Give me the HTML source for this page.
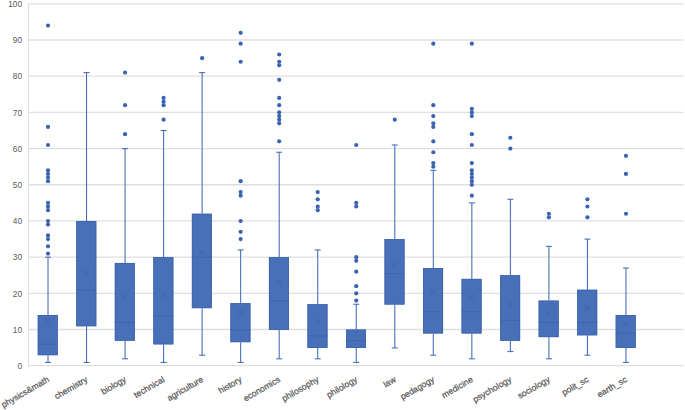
<!DOCTYPE html>
<html><head><meta charset="utf-8"><style>
html,body{margin:0;padding:0;background:#fff;width:685px;height:410px;overflow:hidden}
svg{display:block}
.yl{font-family:"Liberation Sans",sans-serif;font-size:8.3px;fill:#595959}
.xl{font-family:"Liberation Sans",sans-serif;font-size:8.6px;fill:#595959;stroke:#595959;stroke-width:0.25px}
</style></head><body>
<svg width="685" height="410" viewBox="0 0 685 410">
<line x1="28.5" y1="365.70" x2="683.5" y2="365.70" stroke="#dfdfdf" stroke-width="1.3"/>
<line x1="28.5" y1="329.51" x2="683.5" y2="329.51" stroke="#dfdfdf" stroke-width="1.3"/>
<line x1="28.5" y1="293.32" x2="683.5" y2="293.32" stroke="#dfdfdf" stroke-width="1.3"/>
<line x1="28.5" y1="257.13" x2="683.5" y2="257.13" stroke="#dfdfdf" stroke-width="1.3"/>
<line x1="28.5" y1="220.94" x2="683.5" y2="220.94" stroke="#dfdfdf" stroke-width="1.3"/>
<line x1="28.5" y1="184.75" x2="683.5" y2="184.75" stroke="#dfdfdf" stroke-width="1.3"/>
<line x1="28.5" y1="148.56" x2="683.5" y2="148.56" stroke="#dfdfdf" stroke-width="1.3"/>
<line x1="28.5" y1="112.37" x2="683.5" y2="112.37" stroke="#dfdfdf" stroke-width="1.3"/>
<line x1="28.5" y1="76.18" x2="683.5" y2="76.18" stroke="#dfdfdf" stroke-width="1.3"/>
<line x1="28.5" y1="39.99" x2="683.5" y2="39.99" stroke="#dfdfdf" stroke-width="1.3"/>
<line x1="28.5" y1="3.80" x2="683.5" y2="3.80" stroke="#dfdfdf" stroke-width="1.3"/>
<line x1="28.5" y1="3.60" x2="28.5" y2="365.50" stroke="#dfdfdf" stroke-width="1"/>
<text transform="translate(22,368.90) scale(1,1.08)" text-anchor="end" class="yl">0</text>
<text transform="translate(22,332.71) scale(1,1.08)" text-anchor="end" class="yl">10</text>
<text transform="translate(22,296.52) scale(1,1.08)" text-anchor="end" class="yl">20</text>
<text transform="translate(22,260.33) scale(1,1.08)" text-anchor="end" class="yl">30</text>
<text transform="translate(22,224.14) scale(1,1.08)" text-anchor="end" class="yl">40</text>
<text transform="translate(22,187.95) scale(1,1.08)" text-anchor="end" class="yl">50</text>
<text transform="translate(22,151.76) scale(1,1.08)" text-anchor="end" class="yl">60</text>
<text transform="translate(22,115.57) scale(1,1.08)" text-anchor="end" class="yl">70</text>
<text transform="translate(22,79.38) scale(1,1.08)" text-anchor="end" class="yl">80</text>
<text transform="translate(22,43.19) scale(1,1.08)" text-anchor="end" class="yl">90</text>
<text transform="translate(22,7.00) scale(1,1.08)" text-anchor="end" class="yl">100</text>
<line x1="48.01" y1="257.18" x2="48.01" y2="315.08" stroke="#4169b9" stroke-width="1.05"/>
<line x1="48.01" y1="355.19" x2="48.01" y2="362.43" stroke="#4169b9" stroke-width="1.05"/>
<line x1="45.01" y1="257.18" x2="51.01" y2="257.18" stroke="#4169b9" stroke-width="1.05"/>
<line x1="45.01" y1="362.43" x2="51.01" y2="362.43" stroke="#4169b9" stroke-width="1.05"/>
<rect x="37.76" y="315.08" width="20.00" height="40.11" fill="#4770b8"/>
<rect x="38.11" y="315.43" width="19.30" height="39.41" fill="none" stroke="#3b62ad" stroke-width="0.7"/>
<line x1="37.76" y1="344.24" x2="57.76" y2="344.24" stroke="#3d63ab" stroke-width="0.9"/>
<path d="M44.86 317.61L50.66 323.41M50.66 317.61L44.86 323.41" stroke="#3b62ad" stroke-width="0.8" fill="none"/>
<circle cx="48.01" cy="25.56" r="2.1" fill="#3b63b2"/>
<circle cx="48.01" cy="126.90" r="2.1" fill="#3b63b2"/>
<circle cx="48.01" cy="144.99" r="2.1" fill="#3b63b2"/>
<circle cx="48.01" cy="170.32" r="2.1" fill="#3b63b2"/>
<circle cx="48.01" cy="173.94" r="2.1" fill="#3b63b2"/>
<circle cx="48.01" cy="177.56" r="2.1" fill="#3b63b2"/>
<circle cx="48.01" cy="181.18" r="2.1" fill="#3b63b2"/>
<circle cx="48.01" cy="202.90" r="2.1" fill="#3b63b2"/>
<circle cx="48.01" cy="206.51" r="2.1" fill="#3b63b2"/>
<circle cx="48.01" cy="210.13" r="2.1" fill="#3b63b2"/>
<circle cx="48.01" cy="220.99" r="2.1" fill="#3b63b2"/>
<circle cx="48.01" cy="224.61" r="2.1" fill="#3b63b2"/>
<circle cx="48.01" cy="235.47" r="2.1" fill="#3b63b2"/>
<circle cx="48.01" cy="239.09" r="2.1" fill="#3b63b2"/>
<circle cx="48.01" cy="246.32" r="2.1" fill="#3b63b2"/>
<circle cx="48.01" cy="253.56" r="2.1" fill="#3b63b2"/>
<text transform="translate(46.56,375.60) rotate(-30)" text-anchor="end" class="xl" dy="0.75em">physics&amp;math</text>
<line x1="86.54" y1="72.61" x2="86.54" y2="220.99" stroke="#4169b9" stroke-width="1.05"/>
<line x1="86.54" y1="326.24" x2="86.54" y2="362.43" stroke="#4169b9" stroke-width="1.05"/>
<line x1="83.54" y1="72.61" x2="89.54" y2="72.61" stroke="#4169b9" stroke-width="1.05"/>
<line x1="83.54" y1="362.43" x2="89.54" y2="362.43" stroke="#4169b9" stroke-width="1.05"/>
<rect x="76.29" y="220.99" width="20.00" height="105.25" fill="#4770b8"/>
<rect x="76.64" y="221.34" width="19.30" height="104.55" fill="none" stroke="#3b62ad" stroke-width="0.7"/>
<line x1="76.29" y1="289.95" x2="96.29" y2="289.95" stroke="#3d63ab" stroke-width="0.9"/>
<path d="M83.39 269.48L89.19 275.28M89.19 269.48L83.39 275.28" stroke="#3b62ad" stroke-width="0.8" fill="none"/>
<text transform="translate(85.09,375.60) rotate(-30)" text-anchor="end" class="xl" dy="0.75em">chemistry</text>
<line x1="125.07" y1="148.61" x2="125.07" y2="262.97" stroke="#4169b9" stroke-width="1.05"/>
<line x1="125.07" y1="340.72" x2="125.07" y2="358.81" stroke="#4169b9" stroke-width="1.05"/>
<line x1="122.07" y1="148.61" x2="128.07" y2="148.61" stroke="#4169b9" stroke-width="1.05"/>
<line x1="122.07" y1="358.81" x2="128.07" y2="358.81" stroke="#4169b9" stroke-width="1.05"/>
<rect x="114.82" y="262.97" width="20.00" height="77.75" fill="#4770b8"/>
<rect x="115.17" y="263.32" width="19.30" height="77.05" fill="none" stroke="#3b62ad" stroke-width="0.7"/>
<line x1="114.82" y1="322.52" x2="134.82" y2="322.52" stroke="#3d63ab" stroke-width="0.9"/>
<path d="M121.92 294.09L127.72 299.89M127.72 294.09L121.92 299.89" stroke="#3b62ad" stroke-width="0.8" fill="none"/>
<circle cx="125.07" cy="134.13" r="2.1" fill="#3b63b2"/>
<circle cx="125.07" cy="105.18" r="2.1" fill="#3b63b2"/>
<circle cx="125.07" cy="72.61" r="2.1" fill="#3b63b2"/>
<text transform="translate(123.62,375.60) rotate(-30)" text-anchor="end" class="xl" dy="0.75em">biology</text>
<line x1="163.60" y1="130.52" x2="163.60" y2="257.18" stroke="#4169b9" stroke-width="1.05"/>
<line x1="163.60" y1="344.34" x2="163.60" y2="362.43" stroke="#4169b9" stroke-width="1.05"/>
<line x1="160.60" y1="130.52" x2="166.60" y2="130.52" stroke="#4169b9" stroke-width="1.05"/>
<line x1="160.60" y1="362.43" x2="166.60" y2="362.43" stroke="#4169b9" stroke-width="1.05"/>
<rect x="153.35" y="257.18" width="20.00" height="87.16" fill="#4770b8"/>
<rect x="153.70" y="257.53" width="19.30" height="86.46" fill="none" stroke="#3b62ad" stroke-width="0.7"/>
<line x1="153.35" y1="316.01" x2="173.35" y2="316.01" stroke="#3d63ab" stroke-width="0.9"/>
<path d="M160.45 292.28L166.25 298.08M166.25 292.28L160.45 298.08" stroke="#3b62ad" stroke-width="0.8" fill="none"/>
<circle cx="163.60" cy="119.66" r="2.1" fill="#3b63b2"/>
<circle cx="163.60" cy="105.18" r="2.1" fill="#3b63b2"/>
<circle cx="163.60" cy="101.56" r="2.1" fill="#3b63b2"/>
<circle cx="163.60" cy="97.94" r="2.1" fill="#3b63b2"/>
<text transform="translate(162.15,375.60) rotate(-30)" text-anchor="end" class="xl" dy="0.75em">technical</text>
<line x1="202.13" y1="72.61" x2="202.13" y2="213.75" stroke="#4169b9" stroke-width="1.05"/>
<line x1="202.13" y1="308.15" x2="202.13" y2="355.19" stroke="#4169b9" stroke-width="1.05"/>
<line x1="199.13" y1="72.61" x2="205.13" y2="72.61" stroke="#4169b9" stroke-width="1.05"/>
<line x1="199.13" y1="355.19" x2="205.13" y2="355.19" stroke="#4169b9" stroke-width="1.05"/>
<rect x="191.88" y="213.75" width="20.00" height="94.39" fill="#4770b8"/>
<rect x="192.23" y="214.10" width="19.30" height="93.69" fill="none" stroke="#3b62ad" stroke-width="0.7"/>
<line x1="191.88" y1="257.38" x2="211.88" y2="257.38" stroke="#3d63ab" stroke-width="0.9"/>
<path d="M198.98 249.94L204.78 255.74M204.78 249.94L198.98 255.74" stroke="#3b62ad" stroke-width="0.8" fill="none"/>
<circle cx="202.13" cy="58.13" r="2.1" fill="#3b63b2"/>
<text transform="translate(200.68,375.60) rotate(-30)" text-anchor="end" class="xl" dy="0.75em">agriculture</text>
<line x1="240.66" y1="249.94" x2="240.66" y2="303.14" stroke="#4169b9" stroke-width="1.05"/>
<line x1="240.66" y1="342.16" x2="240.66" y2="362.43" stroke="#4169b9" stroke-width="1.05"/>
<line x1="237.66" y1="249.94" x2="243.66" y2="249.94" stroke="#4169b9" stroke-width="1.05"/>
<line x1="237.66" y1="362.43" x2="243.66" y2="362.43" stroke="#4169b9" stroke-width="1.05"/>
<rect x="230.41" y="303.14" width="20.00" height="39.02" fill="#4770b8"/>
<rect x="230.76" y="303.49" width="19.30" height="38.32" fill="none" stroke="#3b62ad" stroke-width="0.7"/>
<line x1="230.41" y1="329.76" x2="250.41" y2="329.76" stroke="#3d63ab" stroke-width="0.9"/>
<path d="M237.51 309.29L243.31 315.09M243.31 309.29L237.51 315.09" stroke="#3b62ad" stroke-width="0.8" fill="none"/>
<circle cx="240.66" cy="32.80" r="2.1" fill="#3b63b2"/>
<circle cx="240.66" cy="43.66" r="2.1" fill="#3b63b2"/>
<circle cx="240.66" cy="61.75" r="2.1" fill="#3b63b2"/>
<circle cx="240.66" cy="181.18" r="2.1" fill="#3b63b2"/>
<circle cx="240.66" cy="192.04" r="2.1" fill="#3b63b2"/>
<circle cx="240.66" cy="195.66" r="2.1" fill="#3b63b2"/>
<circle cx="240.66" cy="220.99" r="2.1" fill="#3b63b2"/>
<circle cx="240.66" cy="231.85" r="2.1" fill="#3b63b2"/>
<circle cx="240.66" cy="239.09" r="2.1" fill="#3b63b2"/>
<text transform="translate(239.21,375.60) rotate(-30)" text-anchor="end" class="xl" dy="0.75em">history</text>
<line x1="279.19" y1="152.23" x2="279.19" y2="257.18" stroke="#4169b9" stroke-width="1.05"/>
<line x1="279.19" y1="329.86" x2="279.19" y2="358.81" stroke="#4169b9" stroke-width="1.05"/>
<line x1="276.19" y1="152.23" x2="282.19" y2="152.23" stroke="#4169b9" stroke-width="1.05"/>
<line x1="276.19" y1="358.81" x2="282.19" y2="358.81" stroke="#4169b9" stroke-width="1.05"/>
<rect x="268.94" y="257.18" width="20.00" height="72.68" fill="#4770b8"/>
<rect x="269.29" y="257.53" width="19.30" height="71.98" fill="none" stroke="#3b62ad" stroke-width="0.7"/>
<line x1="268.94" y1="300.81" x2="288.94" y2="300.81" stroke="#3d63ab" stroke-width="0.9"/>
<path d="M276.04 279.61L281.84 285.41M281.84 279.61L276.04 285.41" stroke="#3b62ad" stroke-width="0.8" fill="none"/>
<circle cx="279.19" cy="54.52" r="2.1" fill="#3b63b2"/>
<circle cx="279.19" cy="61.75" r="2.1" fill="#3b63b2"/>
<circle cx="279.19" cy="65.37" r="2.1" fill="#3b63b2"/>
<circle cx="279.19" cy="79.85" r="2.1" fill="#3b63b2"/>
<circle cx="279.19" cy="97.94" r="2.1" fill="#3b63b2"/>
<circle cx="279.19" cy="105.18" r="2.1" fill="#3b63b2"/>
<circle cx="279.19" cy="112.42" r="2.1" fill="#3b63b2"/>
<circle cx="279.19" cy="116.04" r="2.1" fill="#3b63b2"/>
<circle cx="279.19" cy="119.66" r="2.1" fill="#3b63b2"/>
<circle cx="279.19" cy="123.28" r="2.1" fill="#3b63b2"/>
<circle cx="279.19" cy="141.37" r="2.1" fill="#3b63b2"/>
<text transform="translate(277.74,375.60) rotate(-30)" text-anchor="end" class="xl" dy="0.75em">economics</text>
<line x1="317.72" y1="249.94" x2="317.72" y2="304.23" stroke="#4169b9" stroke-width="1.05"/>
<line x1="317.72" y1="347.95" x2="317.72" y2="358.81" stroke="#4169b9" stroke-width="1.05"/>
<line x1="314.72" y1="249.94" x2="320.72" y2="249.94" stroke="#4169b9" stroke-width="1.05"/>
<line x1="314.72" y1="358.81" x2="320.72" y2="358.81" stroke="#4169b9" stroke-width="1.05"/>
<rect x="307.47" y="304.23" width="20.00" height="43.73" fill="#4770b8"/>
<rect x="307.82" y="304.58" width="19.30" height="43.03" fill="none" stroke="#3b62ad" stroke-width="0.7"/>
<line x1="307.47" y1="335.91" x2="327.47" y2="335.91" stroke="#3d63ab" stroke-width="0.9"/>
<path d="M314.57 319.42L320.37 325.22M320.37 319.42L314.57 325.22" stroke="#3b62ad" stroke-width="0.8" fill="none"/>
<circle cx="317.72" cy="192.04" r="2.1" fill="#3b63b2"/>
<circle cx="317.72" cy="199.28" r="2.1" fill="#3b63b2"/>
<circle cx="317.72" cy="206.51" r="2.1" fill="#3b63b2"/>
<circle cx="317.72" cy="210.13" r="2.1" fill="#3b63b2"/>
<text transform="translate(316.27,375.60) rotate(-30)" text-anchor="end" class="xl" dy="0.75em">philosophy</text>
<line x1="356.25" y1="304.23" x2="356.25" y2="329.56" stroke="#4169b9" stroke-width="1.05"/>
<line x1="356.25" y1="347.95" x2="356.25" y2="362.43" stroke="#4169b9" stroke-width="1.05"/>
<line x1="353.25" y1="304.23" x2="359.25" y2="304.23" stroke="#4169b9" stroke-width="1.05"/>
<line x1="353.25" y1="362.43" x2="359.25" y2="362.43" stroke="#4169b9" stroke-width="1.05"/>
<rect x="346.00" y="329.56" width="20.00" height="18.39" fill="#4770b8"/>
<rect x="346.35" y="329.91" width="19.30" height="17.69" fill="none" stroke="#3b62ad" stroke-width="0.7"/>
<line x1="346.00" y1="340.62" x2="366.00" y2="340.62" stroke="#3d63ab" stroke-width="0.9"/>
<path d="M353.10 330.28L358.90 336.08M358.90 330.28L353.10 336.08" stroke="#3b62ad" stroke-width="0.8" fill="none"/>
<circle cx="356.25" cy="144.99" r="2.1" fill="#3b63b2"/>
<circle cx="356.25" cy="202.90" r="2.1" fill="#3b63b2"/>
<circle cx="356.25" cy="206.51" r="2.1" fill="#3b63b2"/>
<circle cx="356.25" cy="257.18" r="2.1" fill="#3b63b2"/>
<circle cx="356.25" cy="260.80" r="2.1" fill="#3b63b2"/>
<circle cx="356.25" cy="271.66" r="2.1" fill="#3b63b2"/>
<circle cx="356.25" cy="286.13" r="2.1" fill="#3b63b2"/>
<circle cx="356.25" cy="293.37" r="2.1" fill="#3b63b2"/>
<circle cx="356.25" cy="300.61" r="2.1" fill="#3b63b2"/>
<text transform="translate(354.80,375.60) rotate(-30)" text-anchor="end" class="xl" dy="0.75em">philology</text>
<line x1="394.78" y1="144.99" x2="394.78" y2="239.09" stroke="#4169b9" stroke-width="1.05"/>
<line x1="394.78" y1="304.53" x2="394.78" y2="347.95" stroke="#4169b9" stroke-width="1.05"/>
<line x1="391.78" y1="144.99" x2="397.78" y2="144.99" stroke="#4169b9" stroke-width="1.05"/>
<line x1="391.78" y1="347.95" x2="397.78" y2="347.95" stroke="#4169b9" stroke-width="1.05"/>
<rect x="384.53" y="239.09" width="20.00" height="65.44" fill="#4770b8"/>
<rect x="384.88" y="239.44" width="19.30" height="64.74" fill="none" stroke="#3b62ad" stroke-width="0.7"/>
<line x1="384.53" y1="273.67" x2="404.53" y2="273.67" stroke="#3d63ab" stroke-width="0.9"/>
<path d="M391.63 262.24L397.43 268.04M397.43 262.24L391.63 268.04" stroke="#3b62ad" stroke-width="0.8" fill="none"/>
<circle cx="394.78" cy="119.66" r="2.1" fill="#3b63b2"/>
<text transform="translate(393.33,375.60) rotate(-30)" text-anchor="end" class="xl" dy="0.75em">law</text>
<line x1="433.31" y1="170.32" x2="433.31" y2="268.04" stroke="#4169b9" stroke-width="1.05"/>
<line x1="433.31" y1="333.48" x2="433.31" y2="355.19" stroke="#4169b9" stroke-width="1.05"/>
<line x1="430.31" y1="170.32" x2="436.31" y2="170.32" stroke="#4169b9" stroke-width="1.05"/>
<line x1="430.31" y1="355.19" x2="436.31" y2="355.19" stroke="#4169b9" stroke-width="1.05"/>
<rect x="423.06" y="268.04" width="20.00" height="65.44" fill="#4770b8"/>
<rect x="423.41" y="268.39" width="19.30" height="64.74" fill="none" stroke="#3b62ad" stroke-width="0.7"/>
<line x1="423.06" y1="311.67" x2="443.06" y2="311.67" stroke="#3d63ab" stroke-width="0.9"/>
<path d="M430.16 289.75L435.96 295.55M435.96 289.75L430.16 295.55" stroke="#3b62ad" stroke-width="0.8" fill="none"/>
<circle cx="433.31" cy="43.66" r="2.1" fill="#3b63b2"/>
<circle cx="433.31" cy="105.18" r="2.1" fill="#3b63b2"/>
<circle cx="433.31" cy="116.04" r="2.1" fill="#3b63b2"/>
<circle cx="433.31" cy="123.28" r="2.1" fill="#3b63b2"/>
<circle cx="433.31" cy="126.90" r="2.1" fill="#3b63b2"/>
<circle cx="433.31" cy="141.37" r="2.1" fill="#3b63b2"/>
<circle cx="433.31" cy="152.23" r="2.1" fill="#3b63b2"/>
<circle cx="433.31" cy="163.09" r="2.1" fill="#3b63b2"/>
<circle cx="433.31" cy="166.71" r="2.1" fill="#3b63b2"/>
<text transform="translate(431.86,375.60) rotate(-30)" text-anchor="end" class="xl" dy="0.75em">pedagogy</text>
<line x1="471.84" y1="202.90" x2="471.84" y2="278.89" stroke="#4169b9" stroke-width="1.05"/>
<line x1="471.84" y1="333.48" x2="471.84" y2="358.81" stroke="#4169b9" stroke-width="1.05"/>
<line x1="468.84" y1="202.90" x2="474.84" y2="202.90" stroke="#4169b9" stroke-width="1.05"/>
<line x1="468.84" y1="358.81" x2="474.84" y2="358.81" stroke="#4169b9" stroke-width="1.05"/>
<rect x="461.59" y="278.89" width="20.00" height="54.58" fill="#4770b8"/>
<rect x="461.94" y="279.24" width="19.30" height="53.88" fill="none" stroke="#3b62ad" stroke-width="0.7"/>
<line x1="461.59" y1="311.67" x2="481.59" y2="311.67" stroke="#3d63ab" stroke-width="0.9"/>
<path d="M468.69 293.73L474.49 299.53M474.49 293.73L468.69 299.53" stroke="#3b62ad" stroke-width="0.8" fill="none"/>
<circle cx="471.84" cy="43.66" r="2.1" fill="#3b63b2"/>
<circle cx="471.84" cy="108.80" r="2.1" fill="#3b63b2"/>
<circle cx="471.84" cy="112.42" r="2.1" fill="#3b63b2"/>
<circle cx="471.84" cy="116.04" r="2.1" fill="#3b63b2"/>
<circle cx="471.84" cy="134.13" r="2.1" fill="#3b63b2"/>
<circle cx="471.84" cy="144.99" r="2.1" fill="#3b63b2"/>
<circle cx="471.84" cy="163.09" r="2.1" fill="#3b63b2"/>
<circle cx="471.84" cy="170.32" r="2.1" fill="#3b63b2"/>
<circle cx="471.84" cy="173.94" r="2.1" fill="#3b63b2"/>
<circle cx="471.84" cy="177.56" r="2.1" fill="#3b63b2"/>
<circle cx="471.84" cy="181.18" r="2.1" fill="#3b63b2"/>
<circle cx="471.84" cy="184.80" r="2.1" fill="#3b63b2"/>
<circle cx="471.84" cy="195.66" r="2.1" fill="#3b63b2"/>
<text transform="translate(470.39,375.60) rotate(-30)" text-anchor="end" class="xl" dy="0.75em">medicine</text>
<line x1="510.37" y1="199.28" x2="510.37" y2="275.27" stroke="#4169b9" stroke-width="1.05"/>
<line x1="510.37" y1="340.72" x2="510.37" y2="351.57" stroke="#4169b9" stroke-width="1.05"/>
<line x1="507.37" y1="199.28" x2="513.37" y2="199.28" stroke="#4169b9" stroke-width="1.05"/>
<line x1="507.37" y1="351.57" x2="513.37" y2="351.57" stroke="#4169b9" stroke-width="1.05"/>
<rect x="500.12" y="275.27" width="20.00" height="65.44" fill="#4770b8"/>
<rect x="500.47" y="275.62" width="19.30" height="64.74" fill="none" stroke="#3b62ad" stroke-width="0.7"/>
<line x1="500.12" y1="320.35" x2="520.12" y2="320.35" stroke="#3d63ab" stroke-width="0.9"/>
<path d="M507.22 301.33L513.02 307.13M513.02 301.33L507.22 307.13" stroke="#3b62ad" stroke-width="0.8" fill="none"/>
<circle cx="510.37" cy="137.75" r="2.1" fill="#3b63b2"/>
<circle cx="510.37" cy="148.61" r="2.1" fill="#3b63b2"/>
<text transform="translate(508.92,375.60) rotate(-30)" text-anchor="end" class="xl" dy="0.75em">psychology</text>
<line x1="548.90" y1="246.32" x2="548.90" y2="300.61" stroke="#4169b9" stroke-width="1.05"/>
<line x1="548.90" y1="337.10" x2="548.90" y2="358.81" stroke="#4169b9" stroke-width="1.05"/>
<line x1="545.90" y1="246.32" x2="551.90" y2="246.32" stroke="#4169b9" stroke-width="1.05"/>
<line x1="545.90" y1="358.81" x2="551.90" y2="358.81" stroke="#4169b9" stroke-width="1.05"/>
<rect x="538.65" y="300.61" width="20.00" height="36.49" fill="#4770b8"/>
<rect x="539.00" y="300.96" width="19.30" height="35.79" fill="none" stroke="#3b62ad" stroke-width="0.7"/>
<line x1="538.65" y1="322.52" x2="558.65" y2="322.52" stroke="#3d63ab" stroke-width="0.9"/>
<path d="M545.75 311.10L551.55 316.90M551.55 311.10L545.75 316.90" stroke="#3b62ad" stroke-width="0.8" fill="none"/>
<circle cx="548.90" cy="213.75" r="2.1" fill="#3b63b2"/>
<circle cx="548.90" cy="217.37" r="2.1" fill="#3b63b2"/>
<text transform="translate(547.45,375.60) rotate(-30)" text-anchor="end" class="xl" dy="0.75em">sociology</text>
<line x1="587.43" y1="239.09" x2="587.43" y2="289.75" stroke="#4169b9" stroke-width="1.05"/>
<line x1="587.43" y1="335.29" x2="587.43" y2="355.19" stroke="#4169b9" stroke-width="1.05"/>
<line x1="584.43" y1="239.09" x2="590.43" y2="239.09" stroke="#4169b9" stroke-width="1.05"/>
<line x1="584.43" y1="355.19" x2="590.43" y2="355.19" stroke="#4169b9" stroke-width="1.05"/>
<rect x="577.18" y="289.75" width="20.00" height="45.54" fill="#4770b8"/>
<rect x="577.53" y="290.10" width="19.30" height="44.84" fill="none" stroke="#3b62ad" stroke-width="0.7"/>
<line x1="577.18" y1="322.52" x2="597.18" y2="322.52" stroke="#3d63ab" stroke-width="0.9"/>
<path d="M584.28 305.31L590.08 311.11M590.08 305.31L584.28 311.11" stroke="#3b62ad" stroke-width="0.8" fill="none"/>
<circle cx="587.43" cy="199.28" r="2.1" fill="#3b63b2"/>
<circle cx="587.43" cy="206.51" r="2.1" fill="#3b63b2"/>
<circle cx="587.43" cy="217.37" r="2.1" fill="#3b63b2"/>
<text transform="translate(585.98,375.60) rotate(-30)" text-anchor="end" class="xl" dy="0.75em">polit_sc</text>
<line x1="625.96" y1="268.04" x2="625.96" y2="315.08" stroke="#4169b9" stroke-width="1.05"/>
<line x1="625.96" y1="347.95" x2="625.96" y2="362.43" stroke="#4169b9" stroke-width="1.05"/>
<line x1="622.96" y1="268.04" x2="628.96" y2="268.04" stroke="#4169b9" stroke-width="1.05"/>
<line x1="622.96" y1="362.43" x2="628.96" y2="362.43" stroke="#4169b9" stroke-width="1.05"/>
<rect x="615.71" y="315.08" width="20.00" height="32.87" fill="#4770b8"/>
<rect x="616.06" y="315.43" width="19.30" height="32.17" fill="none" stroke="#3b62ad" stroke-width="0.7"/>
<line x1="615.71" y1="333.38" x2="635.71" y2="333.38" stroke="#3d63ab" stroke-width="0.9"/>
<path d="M622.81 321.23L628.61 327.03M628.61 321.23L622.81 327.03" stroke="#3b62ad" stroke-width="0.8" fill="none"/>
<circle cx="625.96" cy="155.85" r="2.1" fill="#3b63b2"/>
<circle cx="625.96" cy="173.94" r="2.1" fill="#3b63b2"/>
<circle cx="625.96" cy="213.75" r="2.1" fill="#3b63b2"/>
<text transform="translate(624.51,375.60) rotate(-30)" text-anchor="end" class="xl" dy="0.75em">earth_sc</text>
</svg>
</body></html>
